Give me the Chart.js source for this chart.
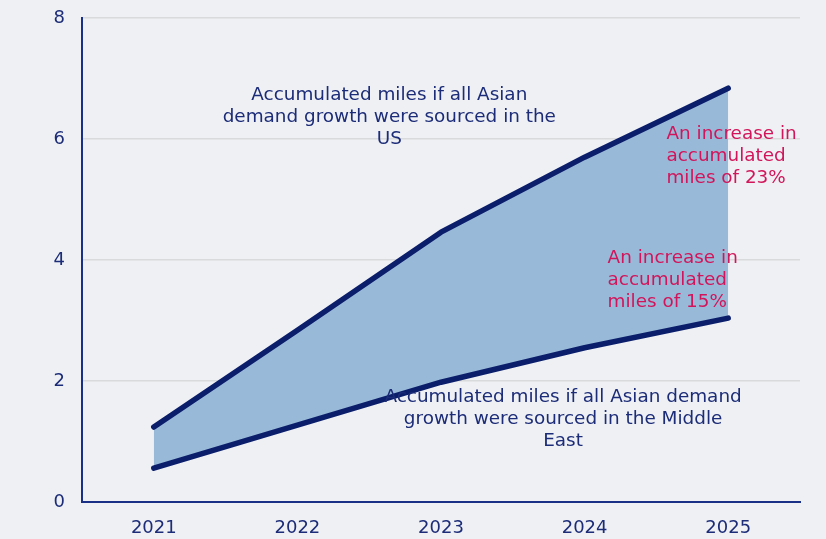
<!DOCTYPE html>
<html>
<head>
<meta charset="utf-8">
<script src="https://cdn.jsdelivr.net/npm/chart.js@4.4.0/dist/chart.umd.min.js"></script>
<style>
  html, body { margin: 0; padding: 0; background: #eef0f3; }
  #wrap { width: 826px; height: 539px; }
</style>
</head>
<body>
<div id="wrap"><canvas id="chart"></canvas></div>
<script>
// Data
const years = ['2021', '2022', '2023', '2024', '2025'];
const milesUS = [1.24, 2.84, 4.46, 5.70, 6.84];
const milesMiddleEast = [0.56, 1.27, 1.98, 2.55, 3.04];
const yTicks = [0, 2, 4, 6, 8];

const navy = '#0b1e6b';
const textNavy = '#1c2c78';
const red = '#d2155a';
const fontFamily = '"DejaVu Sans", Verdana, sans-serif';

// Text notes placed at data coordinates (x = category index, y = value)
const notes = [
    { lines: ['Accumulated miles if all Asian', 'demand growth were sourced in the', 'US'], x: 1.64, y: 6.36, align: 'center', color: textNavy },
    { lines: ['Accumulated miles if all Asian demand', 'growth were sourced in the Middle', 'East'], x: 2.85, y: 1.37, align: 'center', color: textNavy },
    { lines: ['An increase in', 'accumulated', 'miles of 23%'], x: 3.57, y: 5.72, align: 'left', color: red },
    { lines: ['An increase in', 'accumulated', 'miles of 15%'], x: 3.16, y: 3.66, align: 'left', color: red }
];

const notesPlugin = {
    id: 'notes',
    afterDatasetsDraw(chart) {
        const { ctx, scales } = chart;
        ctx.save();
        ctx.font = '18.4px ' + fontFamily;
        ctx.textBaseline = 'middle';
        notes.forEach(n => {
            const px = scales.x.getPixelForValue(n.x);
            const py = scales.y.getPixelForValue(n.y);
            ctx.fillStyle = n.color;
            ctx.textAlign = n.align;
            const lh = 22;
            const start = py - (n.lines.length - 1) * lh / 2;
            n.lines.forEach((t, i) => ctx.fillText(t, px, start + i * lh));
        });
        ctx.restore();
    }
};

const ctx = document.getElementById('chart').getContext('2d');

const chart = new Chart(ctx, {
    type: 'line',
    data: {
        labels: years,
        datasets: [
            {
                label: 'US',
                data: milesUS,
                borderColor: navy,
                borderWidth: 5.5,
                borderCapStyle: 'round',
                borderJoinStyle: 'round',
                backgroundColor: '#98b9d8',
                fill: '+1',
                pointRadius: 0,
                tension: 0
            },
            {
                label: 'Middle East',
                data: milesMiddleEast,
                borderColor: navy,
                borderWidth: 5.5,
                borderCapStyle: 'round',
                borderJoinStyle: 'round',
                fill: false,
                pointRadius: 0,
                tension: 0
            }
        ]
    },
    options: {
        responsive: true,
        maintainAspectRatio: false,
        animation: false,
        layout: {
            padding: { top: 18, right: 26, left: 0, bottom: 0 }
        },
        plugins: {
            legend: { display: false },
            tooltip: { enabled: false },
            filler: { drawTime: 'beforeDatasetsDraw' }
        },
        scales: {
            x: {
                offset: true,
                grid: { display: false, drawTicks: false },
                border: { color: '#1a2f86', width: 2 },
                ticks: {
                    color: textNavy,
                    padding: 16,
                    font: { family: fontFamily, size: 18 }
                },
                afterFit(scale) {
                    scale.height = 37;
                    scale.paddingLeft = 0;
                    scale.paddingRight = 0;
                }
            },
            y: {
                min: 0,
                max: 8,
                afterBuildTicks(scale) {
                    scale.ticks = yTicks.map(v => ({ value: v }));
                },
                grid: { color: '#d9dadc', lineWidth: 1.5, drawTicks: false },
                border: { color: '#1a2f86', width: 2 },
                ticks: {
                    color: textNavy,
                    padding: 17,
                    font: { family: fontFamily, size: 18 }
                },
                afterFit(scale) {
                    scale.width = 82;
                    scale.paddingTop = 0;
                    scale.paddingBottom = 0;
                }
            }
        }
    },
    plugins: [notesPlugin]
});
</script>
</body>
</html>
